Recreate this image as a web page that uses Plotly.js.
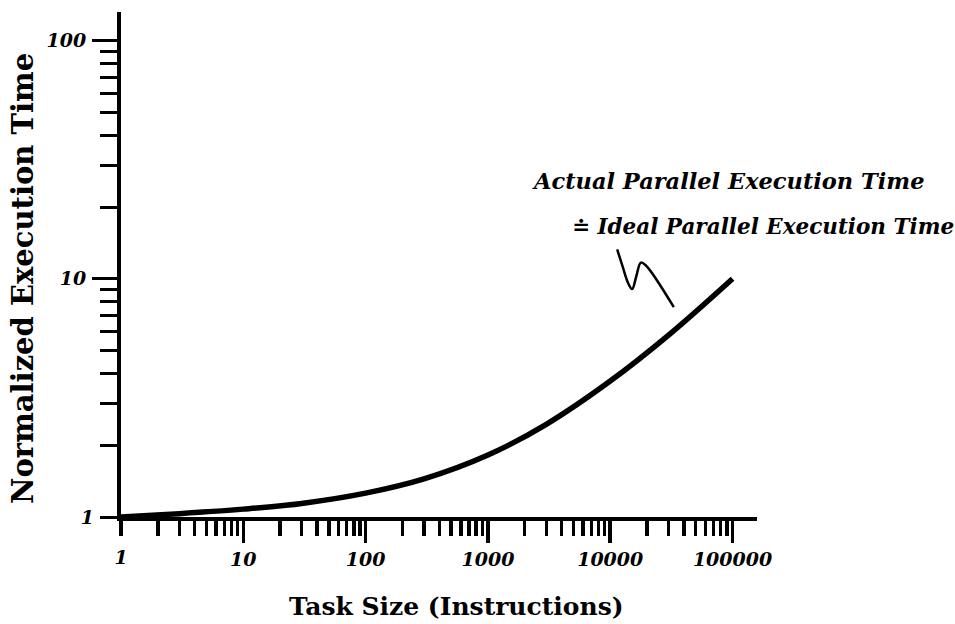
<!DOCTYPE html>
<html>
<head>
<meta charset="utf-8">
<script src="https://cdn.plot.ly/plotly-3.0.1.min.js"></script>
<style>html,body{margin:0;padding:0;background:#fff;}#chart{width:955px;height:624px;}</style>
</head>
<body>
<div id="chart"></div>
<script>
// Data
const taskSize = [1, 3, 10, 30, 100, 300, 1000, 3000, 10000, 30000, 100000];
const execTime = [1.0, 1.033, 1.079, 1.140, 1.259, 1.445, 1.820, 2.449, 3.72, 5.80, 10.0];
// hand-drawn pointer squiggle (data coordinates)
const pointerX = [11400, 12600, 14000, 15100, 16300, 17800, 19500, 33100];
const pointerY = [13.3, 11.3, 9.6, 9.05, 10.2, 11.7, 11.4, 7.6];
// major ticks (with tick marks) and the origin label (no tick mark)
const xMajorTickVals = [10, 100, 1000, 10000, 100000];
const xMajorTickText = ['10', '100', '1000', '10000', '100000'];
const xOriginVals = [1];
const xOriginText = ['1'];
const yMajorTickVals = [10, 100];
const yMajorTickText = ['10', '100'];
const yOriginVals = [1];
const yOriginText = ['1'];
const xTitle = 'Task Size (Instructions)';
const yTitle = 'Normalized Execution Time';
const labelLine1 = 'Actual Parallel Execution Time';
const labelLine2 = '\u2250 Ideal Parallel Execution Time';

const tickFont = {family: 'DejaVu Serif', size: 19, color: '#000', weight: 'bold', style: 'italic'};
const xRange = [0, 5.2];
const yRange = [0, 2.12];

const traces = [
  {x: taskSize, y: execTime, mode: 'lines', line: {color: '#000', width: 5.5, shape: 'spline'}, hoverinfo: 'skip', showlegend: false},
  {x: pointerX, y: pointerY, xaxis: 'x2', yaxis: 'y2', mode: 'lines', line: {color: '#000', width: 2.5, shape: 'spline'}, hoverinfo: 'skip', showlegend: false}
];

const layout = {
  width: 955, height: 624,
  margin: {l: 121, r: 198, t: 12, b: 107},
  paper_bgcolor: '#fff', plot_bgcolor: '#fff',
  showlegend: false,
  xaxis: {
    type: 'log', range: xRange,
    showgrid: false, zeroline: false,
    showline: true, linecolor: '#000', linewidth: 4,
    ticks: 'outside', ticklen: 22, tickwidth: 3.5, tickcolor: '#000',
    tickvals: xMajorTickVals, ticktext: xMajorTickText,
    tickfont: tickFont, ticklabelstandoff: 0,
    minor: {ticks: 'outside', ticklen: 15, tickwidth: 3.5, tickcolor: '#000', dtick: 'D1', showgrid: false}
  },
  xaxis2: {
    type: 'log', range: xRange, overlaying: 'x', anchor: 'y2', side: 'bottom',
    showgrid: false, zeroline: false, showline: false,
    ticks: '', tickvals: xOriginVals, ticktext: xOriginText,
    tickfont: tickFont, ticklabelstandoff: 27
  },
  yaxis: {
    type: 'log', range: yRange,
    showgrid: false, zeroline: false,
    showline: true, linecolor: '#000', linewidth: 4,
    ticks: 'outside', ticklen: 25, tickwidth: 3, tickcolor: '#000',
    tickvals: yMajorTickVals, ticktext: yMajorTickText,
    tickfont: tickFont, ticklabelstandoff: 2,
    minor: {ticks: 'outside', ticklen: 17, tickwidth: 3, tickcolor: '#000', dtick: 'D1', showgrid: false}
  },
  yaxis2: {
    type: 'log', range: yRange, overlaying: 'y', anchor: 'x2', side: 'left',
    showgrid: false, zeroline: false, showline: false,
    ticks: '', tickvals: yOriginVals, ticktext: yOriginText,
    tickfont: tickFont, ticklabelstandoff: 26
  },
  annotations: [
    {xref: 'paper', yref: 'paper', x: (456 - 121) / 636, y: (517 - 606) / 505, xanchor: 'center', yanchor: 'middle', showarrow: false,
     text: xTitle, font: {family: 'DejaVu Serif', size: 25, color: '#000', weight: 'bold'}},
    {xref: 'paper', yref: 'paper', x: (23 - 121) / 636, y: (517 - 279) / 505, xanchor: 'center', yanchor: 'middle', showarrow: false, textangle: -90,
     text: yTitle, font: {family: 'DejaVu Serif', size: 29, color: '#000', weight: 'bold'}},
    {xref: 'paper', yref: 'paper', x: (530 - 121) / 636, y: (517 - 181) / 505, xanchor: 'left', yanchor: 'middle', showarrow: false,
     text: labelLine1, font: {family: 'DejaVu Serif', size: 22.5, color: '#000', weight: 'bold', style: 'italic'}},
    {xref: 'paper', yref: 'paper', x: (570 - 121) / 636, y: (517 - 226) / 505, xanchor: 'left', yanchor: 'middle', showarrow: false,
     text: labelLine2, font: {family: 'DejaVu Serif', size: 21.5, color: '#000', weight: 'bold', style: 'italic'}}
  ]
};

Plotly.newPlot('chart', traces, layout, {displayModeBar: false, staticPlot: true});
</script>
</body>
</html>
